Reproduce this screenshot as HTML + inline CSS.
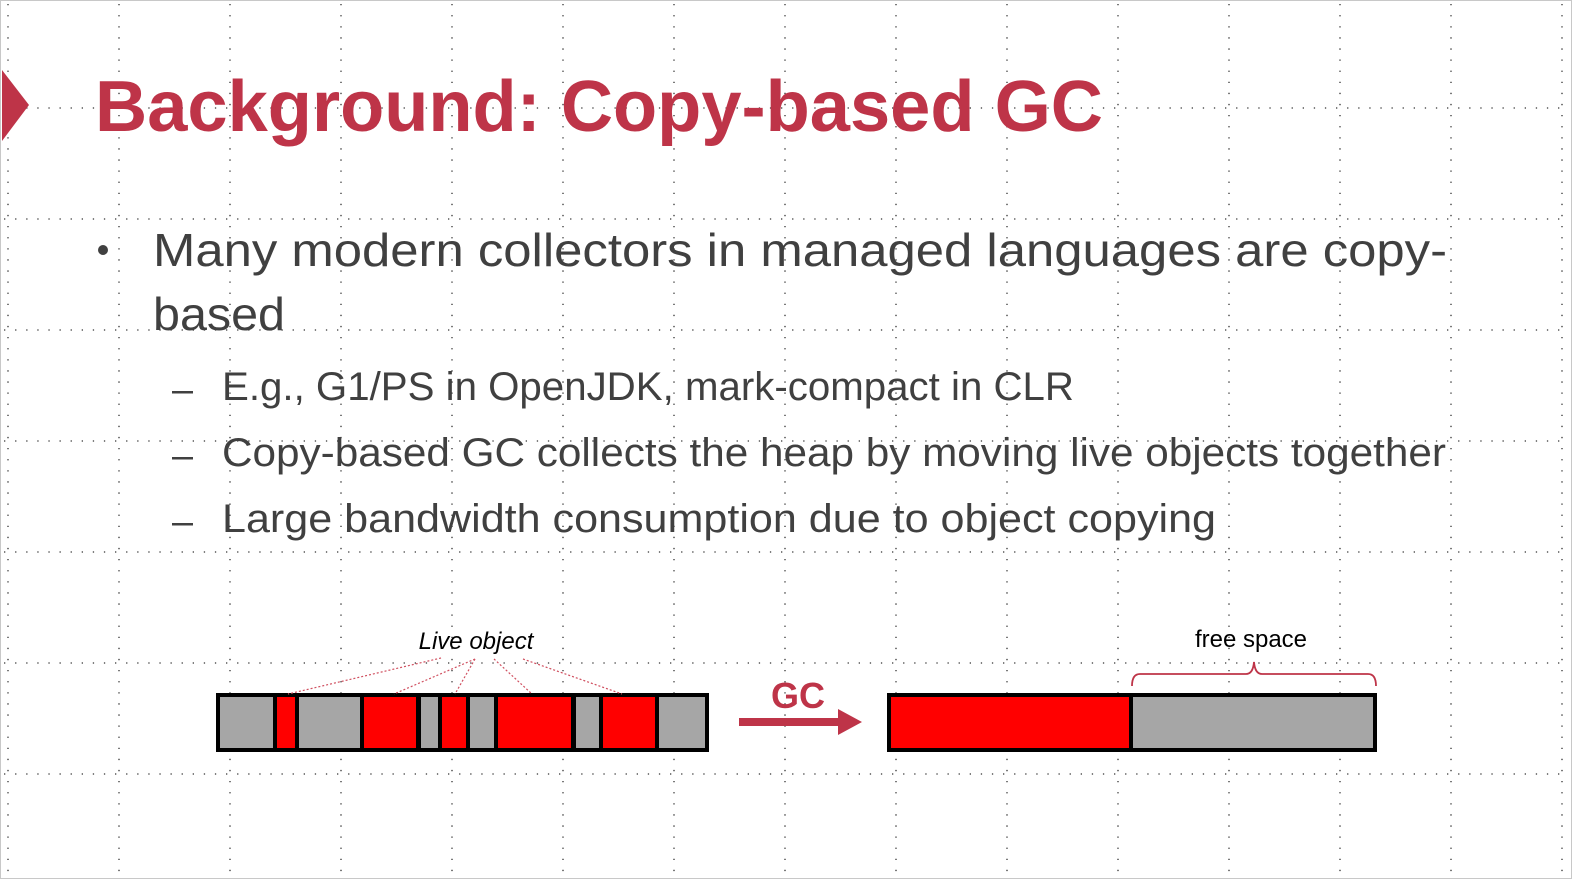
<!DOCTYPE html>
<html><head><meta charset="utf-8"><style>
html,body{margin:0;padding:0;background:#fff;}
svg{display:block;font-family:"Liberation Sans",sans-serif;}
</style></head><body>
<svg width="1572" height="879" viewBox="0 0 1572 879" xmlns="http://www.w3.org/2000/svg">
<rect x="0.5" y="0.5" width="1571" height="878" fill="#fff" stroke="#c8c8c8"/>
<g stroke="#333" stroke-width="1.3" stroke-dasharray="1.3 9.8" fill="none">
<path d="M8 4V876M119 4V876M230 4V876M341 4V876M452 4V876M563 4V876M674 4V876M785 4V876M896 4V876M1007 4V876M1118 4V876M1229 4V876M1340 4V876M1451 4V876M1562 4V876"/>
<path d="M4 108H1568M4 219H1568M4 330H1568M4 441H1568M4 552H1568M4 663H1568M4 774H1568"/>
</g>
<polygon points="2,70 29,105 2,141" fill="#be3448"/>
<text x="95" y="131" font-size="72" font-weight="bold" fill="#be3448" textLength="1008" lengthAdjust="spacingAndGlyphs">Background: Copy-based GC</text>
<g fill="#404040">
<circle cx="103" cy="250" r="5"/>
<text x="153" y="266" font-size="46" textLength="1294" lengthAdjust="spacingAndGlyphs">Many modern collectors in managed languages are copy-</text>
<text x="153" y="330" font-size="46" textLength="132" lengthAdjust="spacingAndGlyphs">based</text>
<rect x="172" y="391" width="21" height="2.5"/>
<rect x="172" y="457" width="21" height="2.5"/>
<rect x="172" y="523" width="21" height="2.5"/>
<text x="222" y="400" font-size="40" textLength="852" lengthAdjust="spacingAndGlyphs">E.g., G1/PS in OpenJDK, mark-compact in CLR</text>
<text x="222" y="466" font-size="40" textLength="1224" lengthAdjust="spacingAndGlyphs">Copy-based GC collects the heap by moving live objects together</text>
<text x="222" y="532" font-size="40" textLength="994" lengthAdjust="spacingAndGlyphs">Large bandwidth consumption due to object copying</text>
</g>
<!-- left heap -->
<rect x="218" y="695" width="489" height="55" fill="#a6a6a6" stroke="#000" stroke-width="4"/>
<g fill="#f00" stroke="#000" stroke-width="4">
<rect x="275" y="695" width="22" height="55"/>
<rect x="362" y="695" width="56" height="55"/>
<rect x="440" y="695" width="28" height="55"/>
<rect x="496" y="695" width="77" height="55"/>
<rect x="601" y="695" width="56" height="55"/>
</g>
<g stroke="#000" stroke-width="4"><line x1="419" y1="695" x2="419" y2="750"/><line x1="574" y1="695" x2="574" y2="750"/></g>
<g stroke="#d05060" stroke-width="1.2" stroke-dasharray="2 2" fill="none">
<line x1="441" y1="658" x2="288" y2="694"/>
<line x1="475" y1="659" x2="394" y2="694"/>
<line x1="475" y1="659" x2="455" y2="694"/>
<line x1="494" y1="659" x2="532" y2="694"/>
<line x1="523" y1="659" x2="622" y2="694"/>
</g>
<text x="476" y="649" font-size="24" font-style="italic" text-anchor="middle" fill="#000">Live object</text>
<!-- arrow -->
<rect x="739" y="718" width="102" height="8" fill="#be3448"/>
<polygon points="838,709 862,722 838,735" fill="#be3448"/>
<text x="798" y="708" font-size="36" font-weight="bold" text-anchor="middle" fill="#be3448">GC</text>
<!-- right heap -->
<rect x="889" y="695" width="486" height="55" fill="#a6a6a6" stroke="#000" stroke-width="4"/>
<rect x="889" y="695" width="242" height="55" fill="#f00" stroke="#000" stroke-width="4"/>
<path d="M1132 686 Q1132 674 1140 674 L1246 674 Q1253 674 1254 662 Q1255 674 1262 674 L1368 674 Q1376 674 1376 686" fill="none" stroke="#be3448" stroke-width="1.8"/>
<text x="1251" y="647" font-size="24" text-anchor="middle" fill="#000">free space</text>
</svg>
</body></html>
